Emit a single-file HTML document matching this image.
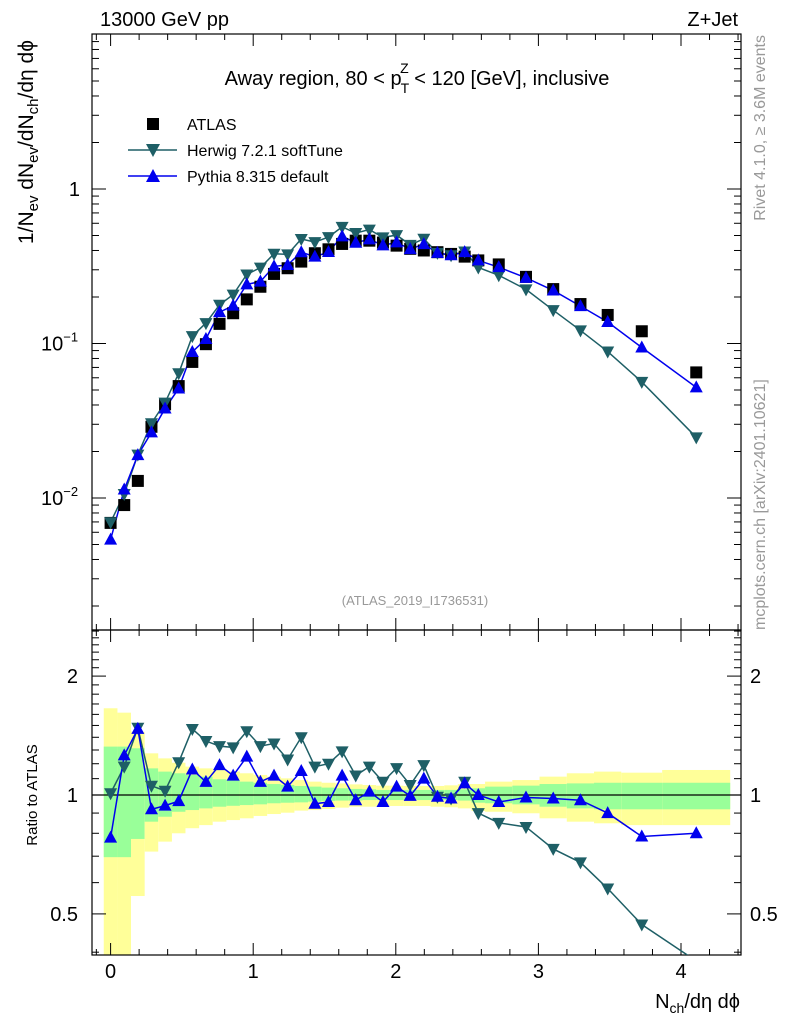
<!DOCTYPE html>
<html><head><meta charset="utf-8"><style>
body{margin:0;background:#fff}
svg{display:block;font-family:"Liberation Sans","DejaVu Sans",sans-serif}
</style></head><body>
<svg id="c" width="786" height="1024" viewBox="0 0 786 1024" xmlns="http://www.w3.org/2000/svg">
<rect width="786" height="1024" fill="#fff"/>
<g id="bands"></g>
<g id="grid"></g>
<g id="series"></g>
<text x="100" y="26" font-size="20">13000 GeV pp</text>
<text x="738" y="26" font-size="20" text-anchor="end">Z+Jet</text>
<text x="417" y="85" font-size="20" text-anchor="middle">Away region, 80 &lt; p<tspan font-size="14" dy="8" dx="-1">T</tspan><tspan font-size="14" dy="-20" dx="-9">Z</tspan><tspan dy="12"> &lt; 120 [GeV], inclusive</tspan></text>
<text x="415" y="605" font-size="13" fill="#999" text-anchor="middle">(ATLAS_2019_I1736531)</text>
<text transform="translate(765,35) rotate(-90)" font-size="16" fill="#999" text-anchor="end">Rivet 4.1.0, ≥ 3.6M events</text>
<text transform="translate(765,630) rotate(-90)" font-size="16" fill="#999" text-anchor="start">mcplots.cern.ch [arXiv:2401.10621]</text>
<text transform="translate(33,40) rotate(-90)" font-size="21" text-anchor="end">1/N<tspan font-size="15" dy="5">ev</tspan><tspan dy="-5"> dN</tspan><tspan font-size="15" dy="5">ev</tspan><tspan dy="-5">/dN</tspan><tspan font-size="15" dy="5">ch</tspan><tspan dy="-5">/dη dϕ</tspan></text>
<text transform="translate(37,795) rotate(-90)" font-size="15" text-anchor="middle">Ratio to ATLAS</text>
<text x="740" y="1008" font-size="20" text-anchor="end">N<tspan font-size="14" dy="5">ch</tspan><tspan dy="-5">/dη dϕ</tspan></text>
<g>
<rect x="147" y="118" width="12" height="12" fill="#000"/>
<text x="187" y="130" font-size="16">ATLAS</text>
<line x1="128" y1="150" x2="177" y2="150" stroke="#1e5f66" stroke-width="1.5"/>
<path d="M146,144 L160,144 L153,157 Z" fill="#1e5f66"/>
<text x="187" y="156" font-size="16">Herwig 7.2.1 softTune</text>
<line x1="128" y1="176" x2="177" y2="176" stroke="#0000ee" stroke-width="1.5"/>
<path d="M146,182 L160,182 L153,169 Z" fill="#0000ee"/>
<text x="187" y="182" font-size="16">Pythia 8.315 default</text>
</g>
</svg>
<script>
const xCenters=[0,0.0955,0.191,0.2865,0.382,0.4775,0.573,0.6685,0.764,0.8595,0.955,1.0505,1.146,1.2415,1.337,1.4325,1.528,1.6235,1.719,1.8145,1.91,2.0055,2.101,2.1965,2.292,2.3875,2.483,2.5785,2.722,2.913,3.104,3.295,3.486,3.725,4.107];
const binEdges=[-0.048,0.048,0.143,0.239,0.334,0.430,0.525,0.621,0.716,0.812,0.907,1.003,1.098,1.194,1.289,1.385,1.480,1.576,1.671,1.767,1.862,1.958,2.053,2.149,2.244,2.340,2.435,2.531,2.626,2.817,3.008,3.199,3.390,3.581,3.868,4.345];
const atlas=[0.0069,0.0090,0.0129,0.0289,0.0404,0.053,0.076,0.099,0.134,0.157,0.193,0.233,0.282,0.307,0.339,0.384,0.407,0.441,0.463,0.463,0.45,0.43,0.41,0.40,0.39,0.38,0.365,0.345,0.325,0.27,0.225,0.18,0.153,0.12,0.065];
const herwig=[0.00697,0.01062,0.01909,0.03049,0.04141,0.06413,0.1117,0.1356,0.1782,0.2072,0.2799,0.3099,0.3807,0.3776,0.4746,0.4531,0.4884,0.5689,0.5186,0.5463,0.486,0.5031,0.4346,0.476,0.3861,0.3724,0.3942,0.3105,0.2763,0.2241,0.1643,0.1215,0.0887,0.0564,0.0247];
const pythia=[0.00538,0.01134,0.01896,0.02659,0.03798,0.05115,0.08816,0.1069,0.1595,0.1758,0.2413,0.2516,0.3158,0.3224,0.3899,0.3648,0.3907,0.4939,0.4491,0.4723,0.432,0.4515,0.408,0.44,0.3861,0.3724,0.3906,0.345,0.312,0.266,0.2205,0.1746,0.1377,0.0942,0.052];
const yellowHi=[1.658,1.616,1.446,1.275,1.238,1.207,1.18,1.168,1.157,1.146,1.135,1.124,1.113,1.102,1.091,1.081,1.074,1.070,1.064,1.06,1.056,1.056,1.054,1.054,1.054,1.058,1.066,1.066,1.081,1.091,1.113,1.135,1.146,1.139,1.157];
const yellowLo=[0.3,0.3,0.555,0.719,0.762,0.8,0.824,0.839,0.856,0.864,0.873,0.885,0.895,0.902,0.913,0.916,0.922,0.929,0.934,0.934,0.938,0.938,0.938,0.938,0.934,0.931,0.925,0.911,0.907,0.899,0.873,0.856,0.848,0.839,0.839];
const greenHi=[1.326,1.326,1.313,1.168,1.146,1.135,1.124,1.113,1.096,1.091,1.081,1.074,1.066,1.06,1.054,1.05,1.044,1.04,1.036,1.034,1.03,1.03,1.03,1.03,1.03,1.03,1.034,1.04,1.05,1.056,1.066,1.07,1.074,1.074,1.074];
const greenLo=[0.696,0.696,0.774,0.856,0.881,0.907,0.916,0.925,0.934,0.939,0.943,0.947,0.953,0.956,0.958,0.962,0.966,0.968,0.968,0.971,0.971,0.971,0.971,0.971,0.971,0.971,0.968,0.956,0.953,0.947,0.934,0.925,0.92,0.92,0.92];
const xTickLabels=["0","1","2","3","4"];
const yMainTickLabels=["1","10","1"];
const ratioTickVals=[0.5,1,2];

const NS="http://www.w3.org/2000/svg";
const L=92,R=741,T=34,MB=630,RB=955;
function X(v){return 110.6+v*142.6;}
function YM(v){return 189-Math.log10(v)*154.5;}
function YR(v){return 795-Math.log10(v)*395;}
function mk(tag,attrs,parent){const e=document.createElementNS(NS,tag);for(const k in attrs)e.setAttribute(k,attrs[k]);parent.appendChild(e);return e;}
const bands=document.getElementById('bands'),grid=document.getElementById('grid'),ser=document.getElementById('series');
function clampR(y){return Math.max(MB,Math.min(RB,y));}
for(let i=0;i<atlas.length;i++){
  const x0=X(binEdges[i]),x1=X(binEdges[i+1]);
  let e=mk('rect',{x:x0,y:clampR(YR(yellowHi[i])),width:x1-x0,height:clampR(YR(yellowLo[i]))-clampR(YR(yellowHi[i])),fill:'#ffff99'},bands);
  
  
  e=mk('rect',{x:x0,y:YR(greenHi[i]),width:x1-x0,height:YR(greenLo[i])-YR(greenHi[i]),fill:'#99ff99'},bands);
  
  
}
[[T,MB],[MB,RB]].forEach(([t,b])=>{const e=mk('rect',{x:L,y:t,width:R-L,height:b-t,fill:'none',stroke:'#000','stroke-width':1.2},grid);

});
let u=mk('line',{x1:L,x2:R,y1:YR(1),y2:YR(1),stroke:'#000','stroke-width':1.3},grid);


for(let k=0;k<=4.4001;k+=0.2){const v=Math.round(k*10)/10;const major=Math.abs(v-Math.round(v))<1e-6;const len=major?12:6;const x=X(v);
 if(x<L||x>R)continue;
 [[T,1],[MB,-1],[MB,1],[RB,-1]].forEach(([y,d])=>mk('line',{x1:x,x2:x,y1:y,y2:y+d*len,stroke:'#000','stroke-width':1},grid));}
[T,MB].forEach(y=>mk('line',{x1:X(-0.1),x2:X(-0.1),y1:y,y2:y+6,stroke:'#000'},grid));
[MB,RB].forEach(y=>mk('line',{x1:X(-0.1),x2:X(-0.1),y1:y,y2:y-6,stroke:'#000'},grid));
xTickLabels.forEach((t,i)=>{const e=mk('text',{x:X(i),y:978,'font-size':20,'text-anchor':'middle'},grid);e.textContent=t;

});
for(let d=-3;d<=0;d++){for(let m=1;m<=9;m++){const v=m*Math.pow(10,d);const y=YM(v);if(y<T||y>MB)continue;const len=m===1?14:7;
 mk('line',{x1:L,x2:L+len,y1:y,y2:y,stroke:'#000'},grid);mk('line',{x1:R,x2:R-len,y1:y,y2:y,stroke:'#000'},grid);}}
let e1=mk('text',{x:80,y:196,'font-size':20,'text-anchor':'end'},grid);e1.textContent=yMainTickLabels[0];


[-1,-2].forEach((p,i)=>{const e=mk('text',{x:41,y:YM(Math.pow(10,p))+7,'font-size':20,'text-anchor':'start'},grid);e.textContent=yMainTickLabels[1];
 const s=mk('tspan',{'font-size':13,dy:-9},e);s.textContent=(p===-1?'−1':'−2');
 
 });
[0.4,0.5,0.6,0.7,0.8,0.9,1,1.1,1.2,1.3,1.4,1.5,1.6,1.7,1.8,1.9,2,2.1,2.2,2.3,2.4,2.5,2.6].forEach(v=>{const y=YR(v);if(y<MB||y>RB)return;const len=(v===0.5||v===1||v===2)?14:7;
 mk('line',{x1:L,x2:L+len,y1:y,y2:y,stroke:'#000'},grid);mk('line',{x1:R,x2:R-len,y1:y,y2:y,stroke:'#000'},grid);});
ratioTickVals.forEach(v=>{const y=YR(v)+7;
 let e=mk('text',{x:78,y:y,'font-size':20,'text-anchor':'end'},grid);e.textContent=String(v);
 
 
 e=mk('text',{x:750,y:y,'font-size':20},grid);e.textContent=String(v);
 
 });
const defs=mk('defs',{},ser);
const c1=mk('clipPath',{id:'cm'},defs);mk('rect',{x:L,y:T,width:R-L,height:MB-T},c1);
const c2=mk('clipPath',{id:'cr'},defs);mk('rect',{x:L,y:MB,width:R-L,height:RB-MB},c2);
const gm=mk('g',{'clip-path':'url(#cm)'},ser),gr=mk('g',{'clip-path':'url(#cr)'},ser);
function tri(x,y,down,col,g,name){const s=6.5;const d=down?`M${x-s},${y-5} L${x+s},${y-5} L${x},${y+7} Z`:`M${x-s},${y+5} L${x+s},${y+5} L${x},${y-7} Z`;
 const e=mk('path',{d:d,fill:col},g);
 
 }
function line(vals,fy,col,g,name){const pts=vals.map((v,i)=>X(xCenters[i])+','+fy(v)).join(' ');
 const e=mk('polyline',{points:pts,fill:'none',stroke:col,'stroke-width':1.5},g);
 
 }
const HC='#1e5f66',PC='#0000ee';
line(herwig,YM,HC,gm,'herwig-line');line(pythia,YM,PC,gm,'pythia-line');
atlas.forEach((v,i)=>{const e=mk('rect',{x:X(xCenters[i])-6,y:YM(v)-6,width:12,height:12,fill:'#000'},gm);
 
 });
herwig.forEach((v,i)=>tri(X(xCenters[i]),YM(v),true,HC,gm,'herwig-point'));
pythia.forEach((v,i)=>tri(X(xCenters[i]),YM(v),false,PC,gm,'pythia-point'));
const hr=herwig.map((v,i)=>v/atlas[i]),pr=pythia.map((v,i)=>v/atlas[i]);
line(hr,YR,HC,gr,'herwig-ratio-line');line(pr,YR,PC,gr,'pythia-ratio-line');
hr.forEach((v,i)=>tri(X(xCenters[i]),YR(v),true,HC,gr,'herwig-ratio-point'));
pr.forEach((v,i)=>tri(X(xCenters[i]),YR(v),false,PC,gr,'pythia-ratio-point'));
</script>
</body></html>
